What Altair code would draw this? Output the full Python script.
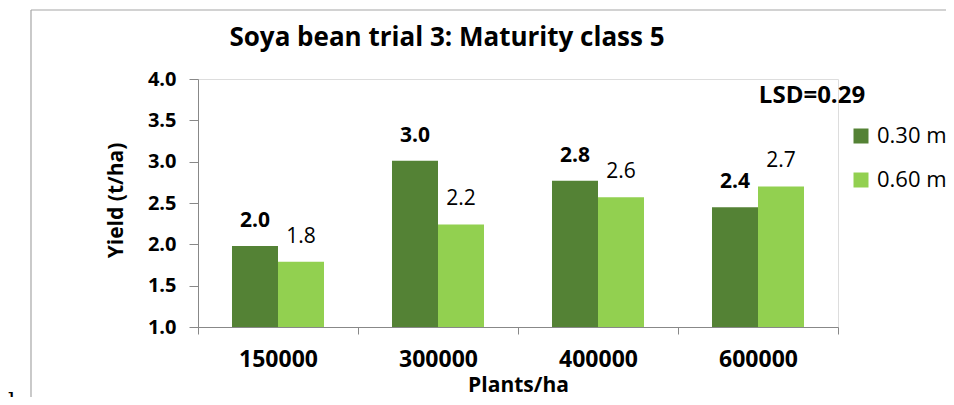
import altair as alt
import pandas as pd

# ---- data ----
categories = ["150000", "300000", "400000", "600000"]
spacings = ["0.30 m", "0.60 m"]
yield_030 = [1.98, 3.01, 2.77, 2.45]
yield_060 = [1.79, 2.24, 2.57, 2.70]
labels_030 = ["2.0", "3.0", "2.8", "2.4"]
labels_060 = ["1.8", "2.2", "2.6", "2.7"]
colors = ["#548235", "#92D050"]
title_text = "Soya bean trial 3: Maturity class 5"
lsd_text = "LSD=0.29"

rows = []
for c, v, l in zip(categories, yield_030, labels_030):
    rows.append({"plants": c, "spacing": spacings[0], "yield": v, "label": l})
for c, v, l in zip(categories, yield_060, labels_060):
    rows.append({"plants": c, "spacing": spacings[1], "yield": v, "label": l})
df = pd.DataFrame(rows)

FONT = "Open Sans"
W, H = 640, 248

x_enc = alt.X(
    "plants:N",
    sort=categories,
    scale=alt.Scale(paddingInner=0, paddingOuter=0),
    axis=alt.Axis(
        title="Plants/ha",
        labelAngle=0,
        labelFont=FONT,
        labelFontWeight="bold",
        labelFontSize=23,
        labelColor="#000000",
        labelPadding=14,
        tickBand="extent",
        tickSize=7,
        tickColor="#888888",
        domainColor="#888888",
        titleFont=FONT,
        titleFontWeight="bold",
        titleFontSize=21,
        titleColor="#000000",
        titleY=64,
        titleBaseline="alphabetic",
    ),
)
xoff_enc = alt.XOffset(
    "spacing:N", sort=spacings, scale=alt.Scale(paddingInner=0, paddingOuter=0.739)
)
y_enc = alt.Y(
    "yield:Q",
    scale=alt.Scale(domain=[1.0, 4.0], zero=False, nice=False),
    axis=alt.Axis(
        title="Yield (t/ha)",
        values=[1.0, 1.5, 2.0, 2.5, 3.0, 3.5, 4.0],
        format=".1f",
        grid=False,
        labelFont=FONT,
        labelFontWeight="bold",
        labelFontSize=20,
        labelColor="#000000",
        labelPadding=13,
        tickSize=9,
        tickColor="#888888",
        domainColor="#888888",
        titleFont=FONT,
        titleFontWeight="bold",
        titleFontSize=21,
        titleColor="#000000",
        titleX=-82,
        titleY=121,
        titleBaseline="middle",
    ),
)

bars = alt.Chart(df).mark_bar(size=46).encode(
    x=x_enc,
    xOffset=xoff_enc,
    y=y_enc,
    y2=alt.datum(1.0),
    color=alt.Color(
        "spacing:N",
        sort=spacings,
        scale=alt.Scale(domain=spacings, range=colors),
        legend=alt.Legend(
            title=None,
            orient="none",
            legendX=652,
            legendY=46,
            symbolType="square",
            symbolSize=225,
            symbolStrokeWidth=0,
            labelFont=FONT,
            labelFontSize=22,
            labelColor="#000000",
            labelOffset=5,
            rowPadding=22,
        ),
    ),
)

text_030 = alt.Chart(df).transform_filter(
    alt.datum.spacing == spacings[0]
).mark_text(
    font=FONT, fontSize=21, fontWeight="bold", baseline="alphabetic", dy=-19, color="#000000"
).encode(x=alt.X("plants:N", sort=categories), xOffset=xoff_enc, y="yield:Q", text="label:N")

text_060 = alt.Chart(df).transform_filter(
    alt.datum.spacing == spacings[1]
).mark_text(
    font=FONT, fontSize=21, fontWeight="normal", baseline="alphabetic", dy=-19, color="#000000"
).encode(x=alt.X("plants:N", sort=categories), xOffset=xoff_enc, y="yield:Q", text="label:N")

one = pd.DataFrame({"a": [0]})

title = alt.Chart(one).mark_text(
    font=FONT, fontSize=26, fontWeight="bold", baseline="alphabetic", align="center", color="#000000"
).encode(x=alt.value(249), y=alt.value(-33), text=alt.value(title_text))

lsd = alt.Chart(one).mark_text(
    font=FONT, fontSize=24, fontWeight="bold", baseline="alphabetic", align="center", color="#000000"
).encode(x=alt.value(614), y=alt.value(24), text=alt.value(lsd_text))

frame_left = alt.Chart(one).mark_rule(color="#a6a6a6", strokeWidth=1.2).encode(
    x=alt.value(-167), y=alt.value(-69), y2=alt.value(330)
)
frame_top = alt.Chart(one).mark_rule(color="#a6a6a6", strokeWidth=1.2).encode(
    x=alt.value(-167), x2=alt.value(760), y=alt.value(-69)
)

letter_b = alt.Chart(one).mark_text(
    font="DejaVu Serif", fontSize=23, baseline="alphabetic", align="left", color="#000000"
).encode(x=alt.value(-190), y=alt.value(330), text=alt.value("b"))

chart = alt.layer(
    frame_left, frame_top, letter_b, bars, text_030, text_060, lsd, title
).properties(
    width=W,
    height=H,
    autosize=alt.AutoSizeParams(type="none"),
    padding={"left": 190, "top": 71, "right": 108, "bottom": 70},
).configure_view(strokeWidth=0, strokeOpacity=0).configure(background="#ffffff")

chart.save("out.html", embed_options={"renderer": "svg", "actions": False})
